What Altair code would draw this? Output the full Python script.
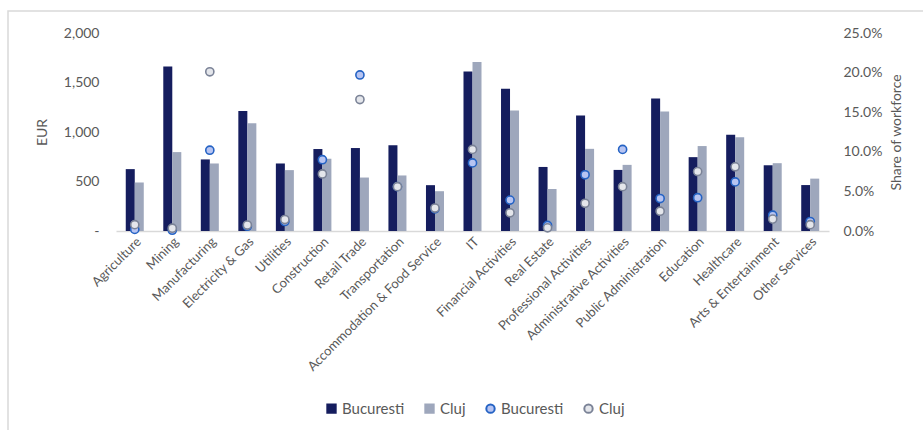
import altair as alt
import pandas as pd

# Sectors shown along the x axis
categories = [
    "Agriculture", "Mining", "Manufacturing", "Electricity & Gas", "Utilities",
    "Construction", "Retail Trade", "Transportation", "Accommodation & Food Service",
    "IT", "Financial Activities", "Real Estate", "Professional Activities",
    "Administrative Activities", "Public Administration", "Education", "Healthcare",
    "Arts & Entertainment", "Other Services",
]

# Average net salary, EUR (bars, left axis)
salary_bucuresti = [625, 1662, 723, 1213, 682, 828, 838, 865, 463, 1610,
                    1437, 647, 1166, 617, 1339, 746, 973, 664, 464]
salary_cluj = [490, 797, 682, 1088, 615, 730, 540, 561, 402, 1708,
               1217, 424, 830, 668, 1207, 858, 946, 685, 529]

# Share of workforce, % (markers, right axis)
share_bucuresti = [0.2, 0.1, 10.2, 0.6, 1.2, 9.0, 19.7, 5.6, 2.8, 8.6,
                   3.9, 0.7, 7.1, 10.3, 4.1, 4.2, 6.2, 2.0, 1.2]
share_cluj = [0.8, 0.35, 20.1, 0.75, 1.45, 7.2, 16.6, 5.6, 2.9, 10.3,
              2.3, 0.4, 3.5, 5.6, 2.5, 7.5, 8.1, 1.5, 0.8]

series = ["Bucuresti", "Cluj", "Bucuresti ", "Cluj "]
fills = ["#151d5e", "#9ea7bc", "#b7c4f2", "#e4e6eb"]
strokes = ["#151d5e", "#9ea7bc", "#2563c4", "#7b8397"]
shapes = ["square", "square", "circle", "circle"]

bars = pd.DataFrame(
    [{"sector": c, "city": "Bucuresti", "series": "Bucuresti", "eur": v}
     for c, v in zip(categories, salary_bucuresti)]
    + [{"sector": c, "city": "Cluj", "series": "Cluj", "eur": v}
       for c, v in zip(categories, salary_cluj)]
)
points = pd.DataFrame(
    [{"sector": c, "series": "Bucuresti ", "share": v / 100}
     for c, v in zip(categories, share_bucuresti)]
    + [{"sector": c, "series": "Cluj ", "share": v / 100}
       for c, v in zip(categories, share_cluj)]
)

TXT = "#595959"
LINE = "#d9d9d9"
W, H = 713, 198

x_enc = alt.X(
    "sector:N", sort=categories, title=None,
    scale=alt.Scale(paddingInner=0.52, paddingOuter=0.26),
    axis=alt.Axis(labelAngle=-45, labelFontSize=13, labelColor=TXT, ticks=False,
                  domainColor=LINE, domainWidth=1.5, labelPadding=4, labelLimit=300),
)

color_scale = alt.Scale(domain=series, range=fills)
legend = alt.Legend(
    orient="none", legendX=208, legendY=368, direction="horizontal", columns=4,
    title=None, labelExpr="trim(datum.label)", labelFontSize=15, labelColor=TXT,
    symbolSize=70, symbolStrokeWidth=2, labelOffset=3, columnPadding=16,
)

bar_layer = alt.Chart(bars).mark_bar().encode(
    x=x_enc,
    xOffset=alt.XOffset("city:N", scale=alt.Scale(domain=["Bucuresti", "Cluj"], paddingInner=0)),
    y=alt.Y("eur:Q", title="EUR",
            scale=alt.Scale(domain=[0, 2000], nice=False),
            axis=alt.Axis(orient="left", values=[0, 500, 1000, 1500, 2000],
                          labelExpr="datum.value == 0 ? '-\u00a0\u00a0\u00a0' : format(datum.value, ',')",
                          labelFontSize=14, labelColor=TXT, ticks=False, domain=False,
                          grid=False, labelPadding=17, titleFontSize=14,
                          titleFontWeight="normal", titleColor=TXT, titlePadding=14)),
    color=alt.Color("series:N", scale=color_scale, legend=legend),
)

point_layer = alt.Chart(points).mark_point(filled=True, opacity=1, size=66, strokeWidth=1.6).encode(
    x=x_enc,
    y=alt.Y("share:Q", title="Share of workforce",
            scale=alt.Scale(domain=[0, 0.25], nice=False),
            axis=alt.Axis(orient="right", values=[0, 0.05, 0.10, 0.15, 0.20, 0.25],
                          format=".1%", labelFontSize=14, labelColor=TXT, ticks=False,
                          domain=False, grid=False, labelPadding=14, titleFontSize=14,
                          titleAngle=270, titleBaseline="bottom",
                          titleFontWeight="normal", titleColor=TXT, titlePadding=22)),
    color=alt.Color("series:N", scale=color_scale, legend=legend),
    fill=alt.Fill("series:N", scale=color_scale, legend=legend),
    stroke=alt.Stroke("series:N", scale=alt.Scale(domain=series, range=strokes), legend=legend),
    shape=alt.Shape("series:N", scale=alt.Scale(domain=series, range=shapes), legend=legend),
)

# Light frame around the whole figure
frame = alt.Chart(alt.Data(values=[{"k": 1}])).mark_rect(
    fill=None, stroke=LINE, strokeWidth=1.5
).encode(
    x=alt.value(-108), x2=alt.value(W + 110),
    y=alt.value(-22), y2=alt.value(H + 210),
)

chart = (
    alt.layer(bar_layer, point_layer, frame)
    .resolve_scale(y="independent")
    .properties(
        width=W, height=H,
        autosize=alt.AutoSizeParams(type="none"),
        padding={"left": 116, "top": 33, "right": 94, "bottom": 199},
    )
    .configure(font="Lato")
    .configure_view(stroke=None)
)

chart.save("out.html", embed_options={"renderer": "svg", "actions": False})
